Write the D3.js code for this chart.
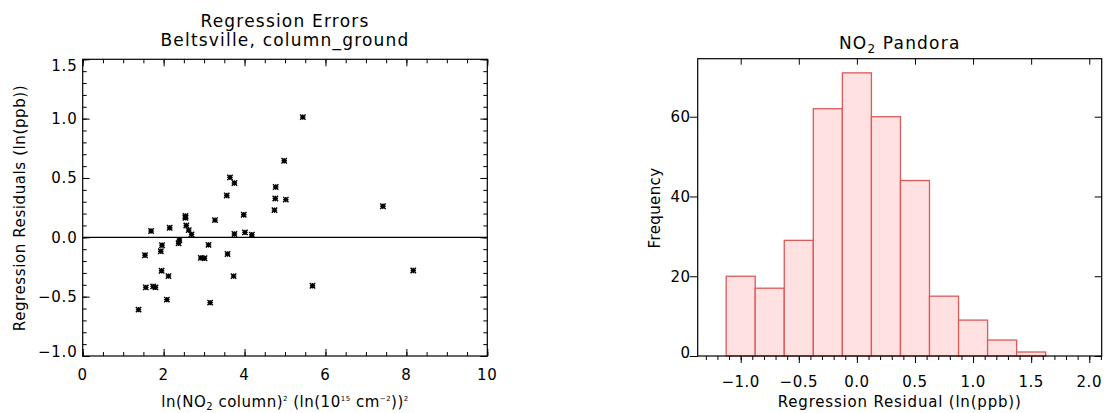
<!DOCTYPE html>
<html>
<head>
<meta charset="utf-8">
<script src="https://cdn.jsdelivr.net/npm/d3@7"></script>
<style>
  html, body { margin: 0; padding: 0; background: #fff; }
  svg { display: block; font-family: "DejaVu Sans", sans-serif; }
</style>
</head>
<body>
<svg id="chart" width="1105" height="413"></svg>
<script>
// ---------- DATA ----------
const scatterX = [5.44, 4.98, 3.64, 3.75, 4.77, 3.56, 4.76, 5.02, 7.42, 4.74, 3.98, 2.54, 2.54,
  3.27, 2.56, 2.15, 2.62, 1.69, 4.01, 3.75, 4.18, 2.69, 2.39, 2.37, 3.11, 1.96, 1.93, 1.54,
  3.58, 2.92, 3.01, 1.95, 8.17, 2.12, 3.73, 1.56, 1.74, 1.80, 5.68, 2.08, 3.15, 1.38];
const scatterY = [1.013, 0.645, 0.505, 0.458, 0.424, 0.352, 0.327, 0.318, 0.262, 0.229, 0.190, 0.180, 0.165,
  0.145, 0.100, 0.081, 0.061, 0.053, 0.042, 0.028, 0.022, 0.025, -0.022, -0.050, -0.064, -0.067, -0.117, -0.151,
  -0.140, -0.173, -0.176, -0.282, -0.279, -0.327, -0.327, -0.422, -0.413, -0.422, -0.408, -0.525, -0.550, -0.609];

const histCenters = [-1.0, -0.75, -0.5, -0.25, 0.0, 0.25, 0.5, 0.75, 1.0, 1.25, 1.5];
const histCounts  = [20, 17, 29, 62, 71, 60, 44, 15, 9, 4, 1];
const binWidth = 0.25;

const leftXTicks = [0, 2, 4, 6, 8, 10];
const leftYTicks = [-1.0, -0.5, 0.0, 0.5, 1.0, 1.5];
const histXTicks = [-1.0, -0.5, 0.0, 0.5, 1.0, 1.5, 2.0];
const histYTicks = [0, 20, 40, 60];

// ---------- SETUP ----------
const svg = d3.select("#chart");
const fmt1 = d => d3.format(".1f")(d).replace("-", "\u2212");

function styleAxis(g) {
  g.select(".domain").remove();
  g.selectAll(".tick line").attr("stroke", "#000").attr("stroke-width", 1);
  g.selectAll(".tick text").remove();
}

// ---------- LEFT: SCATTER ----------
const L = { x0: 82.7, x1: 487.3, y0: 59.3, y1: 356 };
const xS = d3.scaleLinear().domain([0, 10]).range([L.x0, L.x1]);
const yS = d3.scaleLinear().domain([-1, 1.5]).range([L.y1, L.y0]);
const xMinor = d3.range(0, 21).map(i => i / 2);
const yMinor = d3.range(-10, 16).map(i => i / 10);

const gL = svg.append("g");
gL.append("line").attr("x1", xS(0)).attr("x2", xS(10)).attr("y1", yS(0)).attr("y2", yS(0))
  .attr("stroke", "#000").attr("stroke-width", 1.2);

gL.append("g").attr("transform", `translate(0,${L.y1})`)
  .call(d3.axisBottom(xS).tickValues(xMinor).tickSize(-4).tickFormat("")).call(styleAxis);
gL.append("g").attr("transform", `translate(0,${L.y1})`)
  .call(d3.axisBottom(xS).tickValues(leftXTicks).tickSize(-7).tickFormat("")).call(styleAxis);
gL.append("g").attr("transform", `translate(0,${L.y0})`)
  .call(d3.axisTop(xS).tickValues(xMinor).tickSize(-4).tickFormat("")).call(styleAxis);
gL.append("g").attr("transform", `translate(0,${L.y0})`)
  .call(d3.axisTop(xS).tickValues(leftXTicks).tickSize(-7).tickFormat("")).call(styleAxis);
gL.append("g").attr("transform", `translate(${L.x0},0)`)
  .call(d3.axisLeft(yS).tickValues(yMinor).tickSize(-4).tickFormat("")).call(styleAxis);
gL.append("g").attr("transform", `translate(${L.x0},0)`)
  .call(d3.axisLeft(yS).tickValues(leftYTicks).tickSize(-7).tickFormat("")).call(styleAxis);
gL.append("g").attr("transform", `translate(${L.x1},0)`)
  .call(d3.axisRight(yS).tickValues(yMinor).tickSize(-4).tickFormat("")).call(styleAxis);
gL.append("g").attr("transform", `translate(${L.x1},0)`)
  .call(d3.axisRight(yS).tickValues(leftYTicks).tickSize(-7).tickFormat("")).call(styleAxis);

gL.append("rect").attr("x", L.x0).attr("y", L.y0).attr("width", L.x1 - L.x0).attr("height", L.y1 - L.y0)
  .attr("fill", "none").attr("stroke", "#000").attr("stroke-width", 1.2);

const ms = 2.7;
const starPath = `M${-ms},0H${ms}M0,${-ms}V${ms}M${-ms},${-ms}L${ms},${ms}M${-ms},${ms}L${ms},${-ms}`;
gL.selectAll("path.pt").data(scatterX.map((x, i) => [x, scatterY[i]])).enter()
  .append("path").attr("class", "pt")
  .attr("transform", d => `translate(${xS(d[0])},${yS(d[1])})`)
  .attr("d", starPath).attr("stroke", "#000").attr("stroke-width", 1.4).attr("fill", "none");

gL.selectAll("text.xl").data(leftXTicks).enter().append("text").attr("class", "xl")
  .attr("x", d => xS(d)).attr("y", 380).attr("text-anchor", "middle")
  .attr("font-size", 15).attr("letter-spacing", 0.8).text(d => d);
gL.selectAll("text.yl").data(leftYTicks).enter().append("text").attr("class", "yl")
  .attr("x", 77.5).attr("y", (d, i) => yS(d) + 5.3 + (i === leftYTicks.length - 1 ? 6 : (i === 0 ? -4 : 0)))
  .attr("text-anchor", "end").attr("font-size", 15).attr("letter-spacing", 0.8).text(fmt1);

gL.append("text").attr("x", (L.x0 + L.x1) / 2).attr("y", 26.7).attr("text-anchor", "middle")
  .attr("font-size", 17).attr("letter-spacing", 1.2).text("Regression Errors");
gL.append("text").attr("x", (L.x0 + L.x1) / 2).attr("y", 45.7).attr("text-anchor", "middle")
  .attr("font-size", 17).attr("letter-spacing", 1.2).text("Beltsville, column_ground");

gL.append("text").attr("transform", "translate(25,208) rotate(-90)").attr("text-anchor", "middle")
  .attr("font-size", 15).attr("letter-spacing", 0.6).text("Regression Residuals (ln(ppb))");

const xt = gL.append("text").attr("x", (L.x0 + L.x1) / 2).attr("y", 407).attr("text-anchor", "middle")
  .attr("font-size", 15).attr("letter-spacing", 0.5);
xt.append("tspan").text("ln(NO");
xt.append("tspan").attr("baseline-shift", "-3").attr("font-size", 10).text("2");
xt.append("tspan").text(" column)");
xt.append("tspan").attr("baseline-shift", "6").attr("font-size", 7).text("2");
xt.append("tspan").text(" (ln(10");
xt.append("tspan").attr("baseline-shift", "6").attr("font-size", 7).text("15");
xt.append("tspan").text(" cm");
xt.append("tspan").attr("baseline-shift", "6").attr("font-size", 7).text("\u22122");
xt.append("tspan").text("))");
xt.append("tspan").attr("baseline-shift", "6").attr("font-size", 7).text("2");

// ---------- RIGHT: HISTOGRAM ----------
const R = { x0: 697.7, x1: 1101.7, y0: 58.7, y1: 356 };
const hx = d3.scaleLinear().domain([-1.37, 2.107]).range([R.x0, R.x1]);
const hy = d3.scaleLinear().domain([0, 74.55]).range([R.y1, R.y0]);
const hxMinor = d3.range(-13, 22).map(i => i / 10);

const gR = svg.append("g");
gR.selectAll("rect.bar").data(histCenters.map((c, i) => [c, histCounts[i]])).enter()
  .append("rect").attr("class", "bar")
  .attr("x", d => hx(d[0] - binWidth / 2))
  .attr("width", d => hx(d[0] + binWidth / 2) - hx(d[0] - binWidth / 2))
  .attr("y", d => hy(d[1]))
  .attr("height", d => hy(0) - hy(d[1]))
  .attr("fill", "#ffe1e1").attr("stroke", "#dc5a5a").attr("stroke-width", 1.3);

gR.append("g").attr("transform", `translate(0,${R.y1})`)
  .call(d3.axisBottom(hx).tickValues(hxMinor).tickSize(4).tickFormat("")).call(styleAxis);
gR.append("g").attr("transform", `translate(0,${R.y1})`)
  .call(d3.axisBottom(hx).tickValues(histXTicks).tickSize(7).tickFormat("")).call(styleAxis);
gR.append("g").attr("transform", `translate(0,${R.y0})`)
  .call(d3.axisTop(hx).tickValues(histXTicks).tickSize(-6).tickFormat("")).call(styleAxis);
gR.append("g").attr("transform", `translate(${R.x0},0)`)
  .call(d3.axisLeft(hy).tickValues(histYTicks).tickSize(8).tickFormat("")).call(styleAxis);
gR.append("g").attr("transform", `translate(${R.x1},0)`)
  .call(d3.axisRight(hy).tickValues(histYTicks).tickSize(-7).tickFormat("")).call(styleAxis);

gR.append("rect").attr("x", R.x0).attr("y", R.y0).attr("width", R.x1 - R.x0).attr("height", R.y1 - R.y0)
  .attr("fill", "none").attr("stroke", "#000").attr("stroke-width", 1.2);

gR.selectAll("text.xl").data(histXTicks).enter().append("text").attr("class", "xl")
  .attr("x", d => hx(d)).attr("y", 387.3).attr("text-anchor", "middle")
  .attr("font-size", 15).attr("letter-spacing", 0.5).text(fmt1);
gR.selectAll("text.yl").data(histYTicks).enter().append("text").attr("class", "yl")
  .attr("x", 690.5).attr("y", (d, i) => hy(d) + 5.5 + (i === 0 ? -4 : 0))
  .attr("text-anchor", "end").attr("font-size", 15).attr("letter-spacing", 0.5).text(d => d);

const ht = gR.append("text").attr("x", (R.x0 + R.x1) / 2).attr("y", 49.3).attr("text-anchor", "middle")
  .attr("font-size", 17).attr("letter-spacing", 1.2);
ht.append("tspan").text("NO");
ht.append("tspan").attr("baseline-shift", "-4").attr("font-size", 12).text("2");
ht.append("tspan").text(" Pandora");

gR.append("text").attr("transform", "translate(660,208) rotate(-90)").attr("text-anchor", "middle")
  .attr("font-size", 15).attr("letter-spacing", 0.4).text("Frequency");
gR.append("text").attr("x", (R.x0 + R.x1) / 2).attr("y", 407.3).attr("text-anchor", "middle")
  .attr("font-size", 15).attr("letter-spacing", 0.8).text("Regression Residual (ln(ppb))");
</script>
</body>
</html>
